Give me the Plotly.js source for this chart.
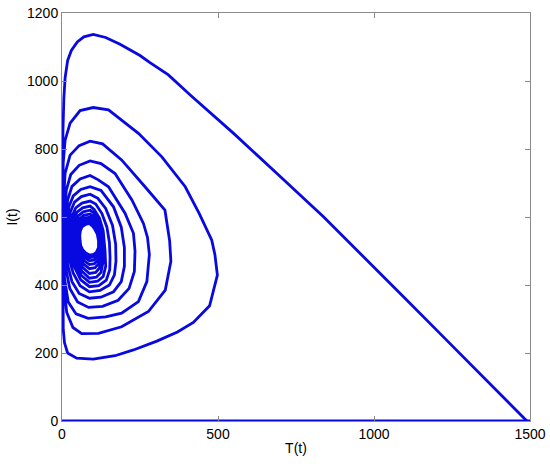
<!DOCTYPE html>
<html>
<head>
<meta charset="utf-8">
<script src="https://cdn.plot.ly/plotly-3.0.1.min.js"></script>
<style>
  html, body { margin: 0; padding: 0; background: #fff; }
  #chart { width: 550px; height: 469px; }
</style>
</head>
<body>
<div id="chart"></div>
<script>
// Phase portrait: T(t) against I(t)

// Trajectory along the I = 0 axis
const baseT = [0, 1500];
const baseI = [0, 0];

// Main trajectory: diagonal from (1490, 0), then spiralling towards the centre
const spiralT = [
    // diagonal up to the first peak
    1490, 1460, 1400, 1300, 1200, 1100, 1000, 838, 689, 550, 411, 341, 282, 250, 186, 140, 100,
    // loop 1
    70, 49, 30, 18, 10, 6, 3, 2, 2, 2, 4, 8, 18, 47, 100, 170, 229, 304, 370, 421, 473, 498, 490, 480, 440, 395, 320, 245, 149, 100,
    // loop 2
    58, 26, 10, 4, 2, 3, 6, 15, 35, 63, 117, 191, 277, 331, 349, 345, 330, 266, 191, 130, 90,
    // loop 3
    55, 26, 10, 5, 5, 8, 20, 45, 84, 140, 191, 245, 272, 280, 274, 261, 224, 170, 125, 90,
    // loop 4
    55, 28, 14, 8, 8, 12, 25, 50, 85, 130, 180, 215, 232, 234, 229, 202, 149, 115, 90,
    // loop 5
    58, 32, 18, 12, 12, 18, 32, 55, 88, 125, 165, 190, 200, 200, 190, 165, 125, 90,
    // loop 6
    60, 36, 22, 16, 16, 22, 36, 58, 88, 122, 152, 168, 173, 172, 162, 140, 115, 90,
    // loop 7
    62, 40, 27, 20, 20, 26, 40, 60, 88, 118, 142, 153, 154, 152, 144, 128, 108, 90,
    // loop 8
    64, 44, 32, 26, 26, 31, 44, 62, 88, 114, 132, 140, 138, 132, 120, 103, 90,
    // loop 9
    66, 48, 37, 32, 32, 36, 47, 64, 88, 110, 125, 131, 130, 126, 116, 102, 90,
    // loop 10
    68, 52, 42, 37, 37, 41, 51, 66, 88, 108, 120, 126, 126, 122, 113, 100, 90,
    // loop 11
    70, 55, 46, 42, 42, 45, 54, 68, 88, 106, 117, 123, 123, 119, 111, 99, 90,
    // loop 12
    72, 58, 50, 46, 46, 49, 57, 70, 88, 104, 115, 121, 121, 117, 109, 98, 90,
    // loop 13
    73, 60, 53, 50, 50, 53, 60, 72, 88, 103, 113, 119, 119, 115, 107, 97, 90,
    // loop 14
    74, 62, 56, 54, 54, 57, 63, 74, 88, 102, 111, 118, 118, 114, 106, 97, 90,
    // loop 15
    75, 64, 59, 57, 58, 60, 66, 76, 88, 101, 110, 117, 117, 113, 105, 96, 90
];
const spiralI = [
    // diagonal up to the first peak
    0, 28, 84, 176, 268, 360, 452, 601, 728, 846, 959, 1018, 1054, 1075, 1108, 1128, 1137,
    // loop 1
    1130, 1115, 1090, 1060, 1010, 950, 850, 700, 500, 350, 270, 230, 200, 185, 182, 192, 209, 235, 262, 290, 339, 429, 490, 532, 610, 689, 777, 846, 915, 922,
    // loop 2
    913, 876, 826, 760, 650, 500, 400, 320, 275, 257, 258, 277, 322, 385, 470, 530, 620, 689, 768, 815, 823,
    // loop 3
    810, 782, 729, 650, 520, 420, 350, 315, 302, 306, 317, 351, 410, 490, 540, 581, 650, 728, 757, 765,
    // loop 4
    752, 725, 680, 620, 530, 450, 390, 350, 334, 337, 355, 390, 440, 500, 552, 611, 689, 710, 722,
    // loop 5
    712, 690, 650, 590, 520, 460, 410, 375, 361, 364, 380, 410, 455, 510, 570, 630, 678, 689,
    // loop 6
    681, 662, 630, 585, 530, 480, 435, 398, 380, 384, 400, 430, 470, 520, 575, 625, 655, 667,
    // loop 7
    660, 644, 615, 575, 530, 490, 452, 415, 395, 398, 414, 445, 480, 525, 570, 610, 638, 647,
    // loop 8
    641, 627, 602, 568, 530, 495, 462, 428, 408, 411, 425, 455, 500, 560, 597, 622, 632,
    // loop 9
    627, 614, 592, 562, 530, 500, 470, 440, 420, 423, 437, 465, 510, 555, 588, 612, 620,
    // loop 10
    615, 603, 583, 558, 530, 503, 478, 452, 434, 437, 450, 478, 515, 555, 583, 602, 609,
    // loop 11
    605, 594, 576, 554, 530, 506, 484, 462, 448, 451, 462, 485, 517, 552, 578, 594, 600,
    // loop 12
    596, 587, 571, 551, 530, 509, 490, 472, 460, 463, 472, 490, 520, 552, 574, 588, 592,
    // loop 13
    588, 580, 566, 548, 530, 512, 495, 481, 471, 474, 482, 498, 524, 550, 570, 582, 586,
    // loop 14
    583, 576, 563, 547, 530, 514, 500, 488, 480, 483, 490, 504, 527, 550, 566, 578, 581,
    // loop 15
    578, 571, 560, 546, 530, 516, 504, 494, 488, 490, 496, 510, 530, 550, 564, 575, 578
];

const xTicks = [0, 500, 1000, 1500];
const yTicks = [0, 200, 400, 600, 800, 1000, 1200];

const lineColor = 'rgb(8, 8, 225)';

const traces = [
    {
        x: baseT, y: baseI,
        type: 'scatter', mode: 'lines',
        line: { color: lineColor, width: 2.8 },
        cliponaxis: false,
        hoverinfo: 'skip'
    },
    {
        x: spiralT, y: spiralI,
        type: 'scatter', mode: 'lines',
        line: { color: lineColor, width: 2.8 },
        cliponaxis: false,
        hoverinfo: 'skip'
    }
];

const axisCommon = {
    showgrid: false,
    zeroline: false,
    showline: true,
    linecolor: '#8a8a8a',
    linewidth: 1,
    mirror: 'ticks',
    ticks: 'inside',
    ticklen: 5,
    tickcolor: '#8a8a8a',
    tickfont: { family: 'Liberation Sans, Arial, sans-serif', size: 14, color: '#000' }
};

const layout = {
    width: 550,
    height: 469,
    margin: { l: 62, r: 20, t: 13, b: 48 },
    paper_bgcolor: '#fff',
    plot_bgcolor: '#fff',
    showlegend: false,
    xaxis: Object.assign({}, axisCommon, {
        range: [0, 1500],
        tickvals: xTicks,
        ticktext: xTicks.map(String),
        title: { text: 'T(t)', font: { family: 'Liberation Sans, Arial, sans-serif', size: 14, color: '#000' }, standoff: 2 }
    }),
    yaxis: Object.assign({}, axisCommon, {
        range: [0, 1200],
        tickvals: yTicks,
        ticktext: yTicks.map(String),
        title: { text: 'I(t)', font: { family: 'Liberation Sans, Arial, sans-serif', size: 14, color: '#000' }, standoff: 6 }
    })
};

Plotly.newPlot('chart', traces, layout, { staticPlot: true, displayModeBar: false });
</script>
</body>
</html>
